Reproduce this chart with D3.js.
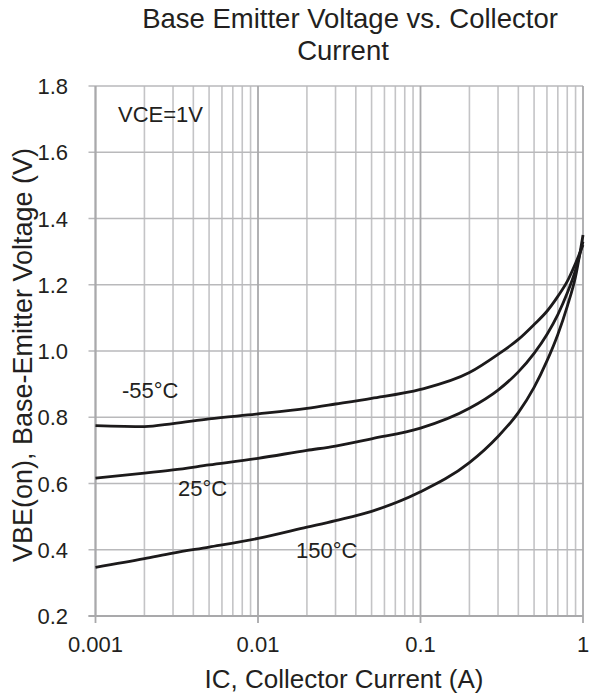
<!DOCTYPE html>
<html>
<head>
<meta charset="utf-8">
<script src="https://cdn.jsdelivr.net/npm/d3@7"></script>
<style>
  body { margin: 0; background: #fff; }
  text { font-family: "Liberation Sans", Arial, sans-serif; fill: #231f20; }
</style>
</head>
<body>
<svg id="chart" width="589" height="697"></svg>
<script>
// collector current points (A), shared by all three curves
const current = [0.001, 0.002, 0.003, 0.005, 0.01, 0.02, 0.03, 0.05, 0.1, 0.2, 0.3, 0.4, 0.5, 0.6, 0.7, 0.8, 0.9, 1.0];

// VBE(on) for each temperature
const vbeMinus55 = [0.775, 0.772, 0.781, 0.795, 0.810, 0.827, 0.840, 0.857, 0.884, 0.935, 0.990, 1.035, 1.080, 1.120, 1.165, 1.210, 1.265, 1.32];
const vbe25 = [0.616, 0.631, 0.641, 0.656, 0.676, 0.700, 0.713, 0.735, 0.767, 0.827, 0.882, 0.937, 0.993, 1.050, 1.110, 1.175, 1.245, 1.33];
const vbe150 = [0.347, 0.373, 0.390, 0.408, 0.434, 0.468, 0.488, 0.516, 0.575, 0.663, 0.742, 0.814, 0.890, 0.970, 1.050, 1.135, 1.225, 1.35];

const seriesNames = ["-55°C", "25°C", "150°C"];
const xTicks = [0.001, 0.01, 0.1, 1];
const xTickLabels = ["0.001", "0.01", "0.1", "1"];
const yTicks = [0.2, 0.4, 0.6, 0.8, 1.0, 1.2, 1.4, 1.6, 1.8];

const svg = d3.select("#chart");

// plot area (names avoid window.top)
const plotL = 95.5, plotR = 583, plotT = 86, plotB = 616;

const x = d3.scaleLog().domain([0.001, 1]).range([plotL, plotR]);
const y = d3.scaleLinear().domain([0.2, 1.8]).range([plotB, plotT]);

// minor + major vertical grid
const minorX = [];
[0.001, 0.01, 0.1].forEach(dec => {
  for (let k = 2; k <= 9; k++) minorX.push(dec * k);
});

svg.append("g").selectAll("line")
  .data(minorX)
  .enter().append("line")
  .attr("x1", d => x(d)).attr("x2", d => x(d))
  .attr("y1", plotT).attr("y2", plotB)
  .attr("stroke", "#c4c4c6")
  .attr("stroke-width", 1.6);

svg.append("g").selectAll("line")
  .data(yTicks)
  .enter().append("line")
  .attr("x1", plotL - 7).attr("x2", plotR)
  .attr("y1", d => y(d)).attr("y2", d => y(d))
  .attr("stroke", "#b9b9bb")
  .attr("stroke-width", 1.6);

svg.append("g").selectAll("line")
  .data(xTicks)
  .enter().append("line")
  .attr("x1", d => x(d)).attr("x2", d => x(d))
  .attr("y1", plotT).attr("y2", plotB + 7)
  .attr("stroke", "#a9a9ab")
  .attr("stroke-width", 1.8);

// axis lines
svg.append("line")
  .attr("x1", plotL).attr("x2", plotL).attr("y1", plotT).attr("y2", plotB)
  .attr("stroke", "#a9a9ab").attr("stroke-width", 1.8);
svg.append("line")
  .attr("x1", plotL - 7).attr("x2", plotR).attr("y1", plotB).attr("y2", plotB)
  .attr("stroke", "#a9a9ab").attr("stroke-width", 1.8);

// tick labels
svg.append("g").selectAll("text")
  .data(yTicks)
  .enter().append("text")
  .attr("x", 68)
  .attr("y", d => y(d) + 8)
  .attr("text-anchor", "end")
  .attr("font-size", 22)
  .text(d => d.toFixed(1));

svg.append("g").selectAll("text")
  .data(xTicks)
  .enter().append("text")
  .attr("x", d => x(d))
  .attr("y", 652)
  .attr("text-anchor", "middle")
  .attr("font-size", 22)
  .text((d, i) => xTickLabels[i]);

// curves
const line = d3.line()
  .x(d => x(d[0]))
  .y(d => y(d[1]))
  .curve(d3.curveMonotoneX);

[vbeMinus55, vbe25, vbe150].forEach(vals => {
  svg.append("path")
    .attr("d", line(current.map((c, i) => [c, vals[i]])))
    .attr("fill", "none")
    .attr("stroke", "#1c1a1b")
    .attr("stroke-width", 2.8);
});

// curve labels
const labelPos = [[122, 398], [178, 496], [296, 558]];
seriesNames.forEach((s, i) => {
  svg.append("text")
    .attr("x", labelPos[i][0]).attr("y", labelPos[i][1])
    .attr("font-size", 22)
    .text(s);
});

svg.append("text")
  .attr("x", 118).attr("y", 122)
  .attr("font-size", 22)
  .text("VCE=1V");

// titles
svg.append("text")
  .attr("x", 350).attr("y", 28)
  .attr("text-anchor", "middle")
  .attr("font-size", 27.5)
  .text("Base Emitter Voltage vs. Collector");
svg.append("text")
  .attr("x", 343).attr("y", 60)
  .attr("text-anchor", "middle")
  .attr("font-size", 27.5)
  .text("Current");

svg.append("text")
  .attr("x", 344).attr("y", 688)
  .attr("text-anchor", "middle")
  .attr("font-size", 26)
  .text("IC, Collector Current (A)");

svg.append("text")
  .attr("transform", "translate(32,355) rotate(-90)")
  .attr("text-anchor", "middle")
  .attr("font-size", 27)
  .text("VBE(on), Base-Emitter Voltage (V)");
</script>
</body>
</html>
